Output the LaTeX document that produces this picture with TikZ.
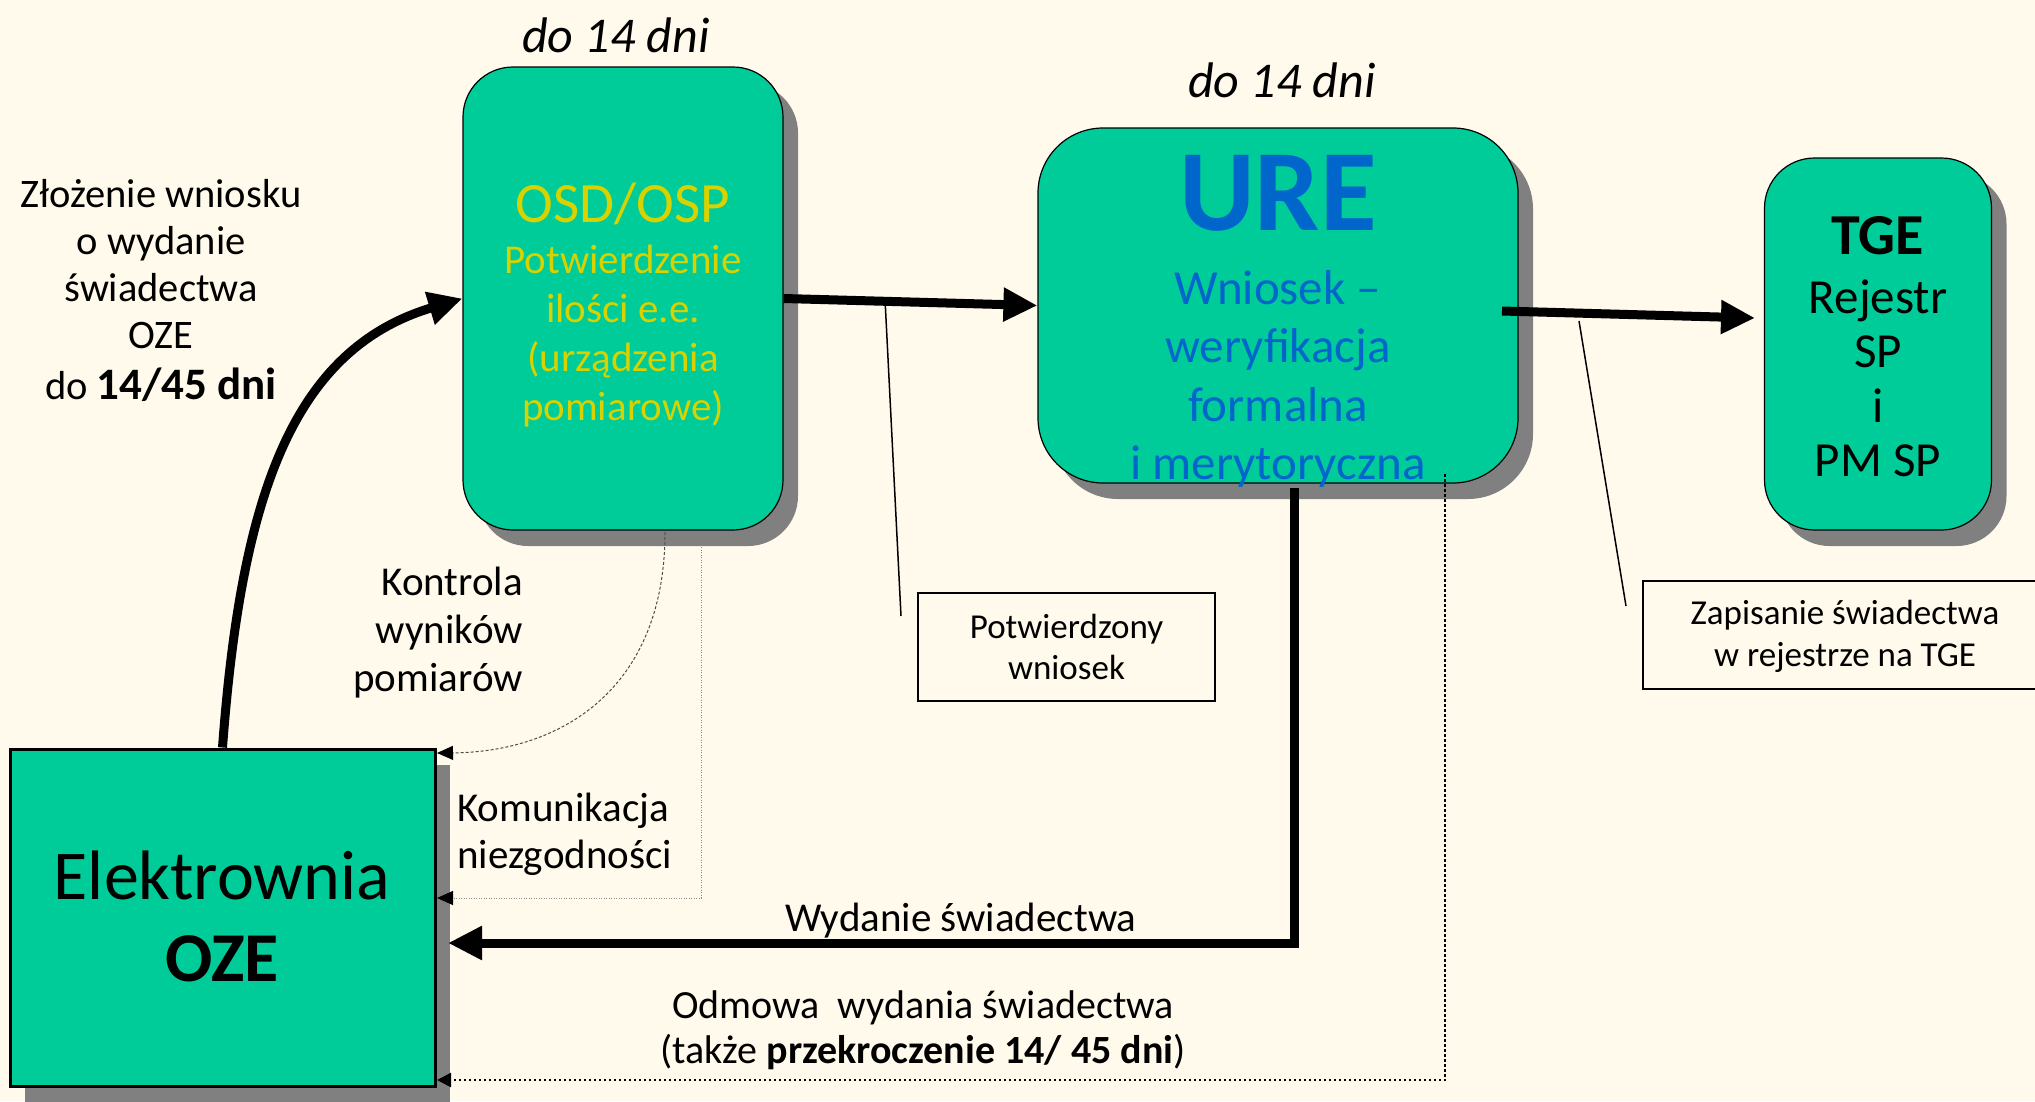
\documentclass[tikz,border=0pt]{standalone}
\usepackage{fontspec}
\setmainfont{Carlito}
\usetikzlibrary{arrows.meta,shadows,calc}
\definecolor{bgc}{RGB}{255,250,235}
\definecolor{boxgreen}{RGB}{0,204,153}
\definecolor{shadowgray}{RGB}{128,128,128}
\definecolor{osdyellow}{RGB}{215,210,0}
\definecolor{ureblue}{RGB}{0,102,204}
\tikzset{
  greenbox/.style={draw=black, line width=1.2pt, fill=boxgreen, inner sep=0pt,
    drop shadow={shadow xshift=15pt, shadow yshift=-16pt, fill=shadowgray, opacity=1}},
  notebox/.style={draw=black, line width=1.5pt, fill=bgc, inner sep=0pt},
  txt/.style={inner sep=0pt, align=center, text=black},
  thickarrow/.style={line width=9pt, -{Triangle[length=34pt,width=32pt]}},
  leader/.style={line width=1.5pt, black},
  smalltip/.style={-{Triangle[length=14pt,width=14pt]}}
}
\begin{document}
\begin{tikzpicture}[x=1pt,y=-1pt]
\useasboundingbox (0,0) rectangle (2035,1101);
\fill[bgc] (0,0) rectangle (2035,1101);

% boxes
\node[greenbox, rounded corners=50pt, minimum width=320pt, minimum height=463pt] (osd) at (623,298.5) {};
\node[greenbox, rounded corners=65pt, minimum width=480pt, minimum height=355pt] (ure) at (1278,305.5) {};
\node[greenbox, rounded corners=50pt, minimum width=227pt, minimum height=372pt] (tge) at (1878,344) {};
\node[greenbox, line width=3pt, minimum width=425pt, minimum height=337pt] (elek) at (222.5,917.5) {};
\node[notebox, minimum width=297pt, minimum height=108pt] (potw) at (1066.5,647) {};
\node[notebox, minimum width=400pt, minimum height=108pt] (zap) at (1843,635) {};

% texts in boxes
\node[txt, text=osdyellow, font=\fontsize{41}{49}\selectfont] (osdtxt) at (623,305)
  {{\fontsize{57}{57}\selectfont OSD/OSP}\\[2pt]Potwierdzenie\\ilości e.e.\\(urządzenia\\pomiarowe)};
\node[txt, text=ureblue, font=\fontsize{116}{116}\selectfont\bfseries] (uretitle) at (1278,193) {URE};
\node[txt, text=ureblue, font=\fontsize{49}{58.5}\selectfont] (uretxt) at (1278,379)
  {Wniosek –\\weryfikacja\\formalna\\i merytoryczna};
\node[txt, font=\fontsize{49}{54.5}\selectfont] (tgetxt) at (1878,347)
  {{\fontsize{58}{58}\selectfont\bfseries TGE}\\[4pt]Rejestr\\SP\\i\\PM SP};
\node[txt, font=\fontsize{70}{82}\selectfont] (elektxt) at (222,916)
  {Elektrownia\\\textbf{OZE}};
\node[txt, font=\fontsize{35}{41}\selectfont] (potwtxt) at (1066.5,647) {Potwierdzony\\wniosek};
\node[txt, font=\fontsize{35}{42}\selectfont] (zaptxt) at (1845,636) {Zapisanie świadectwa\\w rejestrze na TGE};

% free labels
\node[txt, font=\fontsize{50}{50}\selectfont\itshape] (do1) at (616,35) {do 14 dni};
\node[txt, font=\fontsize{50}{50}\selectfont\itshape] (do2) at (1282,80) {do 14 dni};
\node[txt, font=\fontsize{40.5}{47}\selectfont] (zloz) at (161,290)
  {Złożenie wniosku\\o wydanie\\świadectwa\\OZE\\[4pt]do {\fontsize{45}{45}\selectfont\bfseries 14/45 dni}};
\node[txt, align=right, anchor=east, font=\fontsize{41}{48}\selectfont] (kontr) at (523,633)
  {Kontrola\\wyników\\pomiarów};
\node[txt, align=left, anchor=west, font=\fontsize{41}{47}\selectfont] (komun) at (457,834)
  {Komunikacja\\niezgodności};
\node[txt, font=\fontsize{41}{47}\selectfont] (wyd) at (961,921) {Wydanie świadectwa};
\node[txt, font=\fontsize{40}{45}\selectfont] (odm) at (923,1030)
  {Odmowa\ \ wydania świadectwa\\(także \textbf{przekroczenie 14/ 45 dni})};

% coordinates
\coordinate (lead1a) at ($(osd.east)!0.4!(ure.west)$);
\coordinate (lead1b) at (901,616);
\coordinate (ureout) at (1502,311);
\coordinate (tgein) at (1755,318);
\coordinate (lead2a) at (1579,321);
\coordinate (lead2b) at (1626,606);
\coordinate (uredown) at (1294,488);
\coordinate (wydend) at (448,943);
\coordinate (odmstart) at (1445,474);
\coordinate (odmend) at (437,1080);
\coordinate (kontrstart) at (665,532);
\coordinate (kontrend) at (437,753);
\coordinate (komstart) at (701,547);
\coordinate (komend) at (437,898);

% connectors
\draw[thickarrow] (elek.north) .. controls (241,499) and (291,350) .. (osd.west);
\draw[thickarrow] (osd.east) -- (ure.west);
\draw[leader] (lead1a) -- (lead1b);
\draw[thickarrow] (ureout) -- (tgein);
\draw[leader] (lead2a) -- (lead2b);
\draw[thickarrow] (uredown) |- (wydend);
\draw[line width=2.5pt, dash pattern=on 2.5pt off 2.5pt, smalltip] (odmstart) |- (odmend);
\draw[line width=1pt, black!70, dash pattern=on 3pt off 2pt, -{Triangle[length=16pt,width=14pt,fill=black,color=black]}] (kontrstart) .. controls (665,690) and (560,752) .. (kontrend);
\draw[line width=1pt, black!45, dash pattern=on 1pt off 1.5pt, -{Triangle[length=16pt,width=14pt,fill=black,color=black]}] (komstart) |- (komend);
\end{tikzpicture}
\end{document}
